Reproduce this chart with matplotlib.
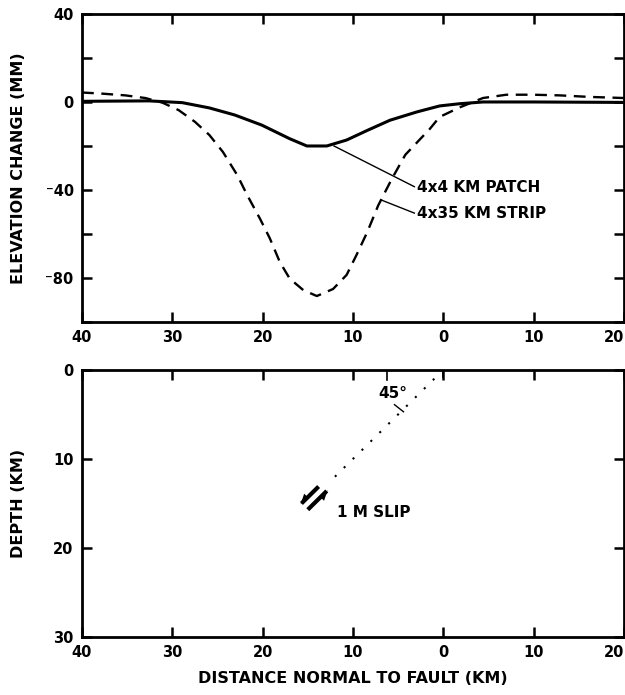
import matplotlib
matplotlib.use('Agg')
import matplotlib.pyplot as plt
from matplotlib.ticker import FuncFormatter, MultipleLocator

# top panel: elevation change (mm) vs distance normal to fault (km)
patch_x = [40, 32.6, 28.9, 25.9, 23.1, 20.1, 17.0, 15.1, 12.9, 10.7, 8.4, 5.9, 2.9, 0.4, -1.8, -4.4,
           -10, -20]
patch_y = [0.3, 0.5, -0.3, -2.7, -5.9, -10.5, -16.7, -20, -20, -17.3, -12.9, -8.3, -4.5, -1.8, -0.8, 0,
           0, -0.2]

strip_x = [40, 37.8, 35.2, 33.0, 31.1, 29.3, 27.5, 25.9, 24.4, 22.8, 21.7, 20.3, 19.2, 18.1, 17.0,
           15.5, 14.0, 12.2, 10.7, 9.6, 8.4, 7.2, 5.7, 4.2, 1.5, 0.4, -1.8, -4.4, -7.0, -9.9,
           -12.9, -16.2, -20]
strip_y = [4.3, 3.8, 3.0, 1.8, -0.3, -3.7, -9, -15, -22.7, -33.3, -42.4, -53, -62, -72.7, -80.3,
           -85.5, -88.2, -85, -78.6, -69.5, -59, -47, -35, -24, -12.3, -6.8, -2.5, 1.8, 3.3, 3.3,
           3.0, 2.3, 1.8]

patch_label = '4x4 KM PATCH'
strip_label = '4x35 KM STRIP'

# bottom panel: fault geometry
dip_x = [0, 12.2]
dip_depth = [0, 12.2]
slip_label = '1 M SLIP'
dip_label = '45°'

x_ticks = [40, 30, 20, 10, 0, -10, -20]

plt.rcParams['font.family'] = 'DejaVu Sans'
plt.rcParams['font.weight'] = 'bold'
plt.rcParams['font.size'] = 10


def style_axes(ax):
    for s in ax.spines.values():
        s.set_linewidth(2.0)
    ax.tick_params(which='both', direction='in', top=True, right=True, width=1.8,
                   length=7.5, labelsize=10.5, pad=6)
    ax.set_xlim(40, -20)
    ax.set_xticks(x_ticks, [f'{abs(v)}' for v in x_ticks])
    ax.get_xticklabels()[-1].set_horizontalalignment('right')


fig = plt.figure(figsize=(6.25, 6.95), dpi=100)
ax1 = fig.add_axes([0.1312, 0.5367, 0.867, 0.4432])
ax2 = fig.add_axes([0.1312, 0.0835, 0.867, 0.3842])

# --- top
style_axes(ax1)
ax1.plot(patch_x, patch_y, color='black', lw=2.2, solid_joinstyle='round')
ax1.plot(strip_x, strip_y, color='black', lw=1.7, dashes=(5, 3.2))
ax1.set_ylim(-100, 40)
ax1.yaxis.set_major_locator(MultipleLocator(40))
ax1.yaxis.set_minor_locator(MultipleLocator(20))
ax1.yaxis.set_major_formatter(FuncFormatter(lambda v, p: f'{v:.0f}'.replace('-', '\u207b')))
ax1.set_ylabel('ELEVATION CHANGE (MM)', fontsize=11.5, fontweight='bold')
ax1.yaxis.set_label_coords(-0.103, 0.5)

ax1.plot([12.1, 3.2], [-20, -38.5], color='black', lw=1.0)
ax1.plot([6.9, 3.2], [-44.5, -50.5], color='black', lw=1.0)
ax1.text(2.9, -38.8, patch_label, ha='left', va='center', fontsize=11, fontweight='bold')
ax1.text(2.9, -50.8, strip_label, ha='left', va='center', fontsize=11, fontweight='bold')

# --- bottom
style_axes(ax2)
ax2.set_ylim(30, 0)
ax2.yaxis.set_major_locator(MultipleLocator(10))
ax2.set_ylabel('DEPTH (KM)', fontsize=11.5, fontweight='bold')
ax2.yaxis.set_label_coords(-0.103, 0.5)
ax2.set_xlabel('DISTANCE NORMAL TO FAULT (KM)', fontsize=11.5, fontweight='bold', labelpad=8)

ax2.plot(dip_x, dip_depth, color='black', lw=1.5, linestyle=(0, (1, 5)))
ax2.plot([0, 0], [0, 0.8], color='black', lw=1.2)
ax2.plot([6.2, 6.2], [0, 1.1], color='black', lw=1.2)
ax2.plot([5.4, 4.4], [3.9, 4.7], color='black', lw=1.0)
ax2.text(5.6, 2.6, dip_label, ha='center', va='center', fontsize=11, fontweight='bold')

# slip symbol: two parallel strokes along the dip with half arrows
ax2.plot([15.7, 13.8], [15.0, 13.1], color='black', lw=3.0, solid_capstyle='butt')
ax2.plot([15.0, 12.9], [15.7, 13.6], color='black', lw=3.0, solid_capstyle='butt')
ax2.fill([15.8, 15.0, 15.4], [15.1, 14.3, 13.9], color='black', lw=0)
ax2.fill([12.8, 13.6, 13.2], [13.5, 14.3, 14.7], color='black', lw=0)
ax2.text(11.8, 16.0, slip_label, ha='left', va='center', fontsize=11, fontweight='bold')

fig.savefig('out.png', dpi=100)
